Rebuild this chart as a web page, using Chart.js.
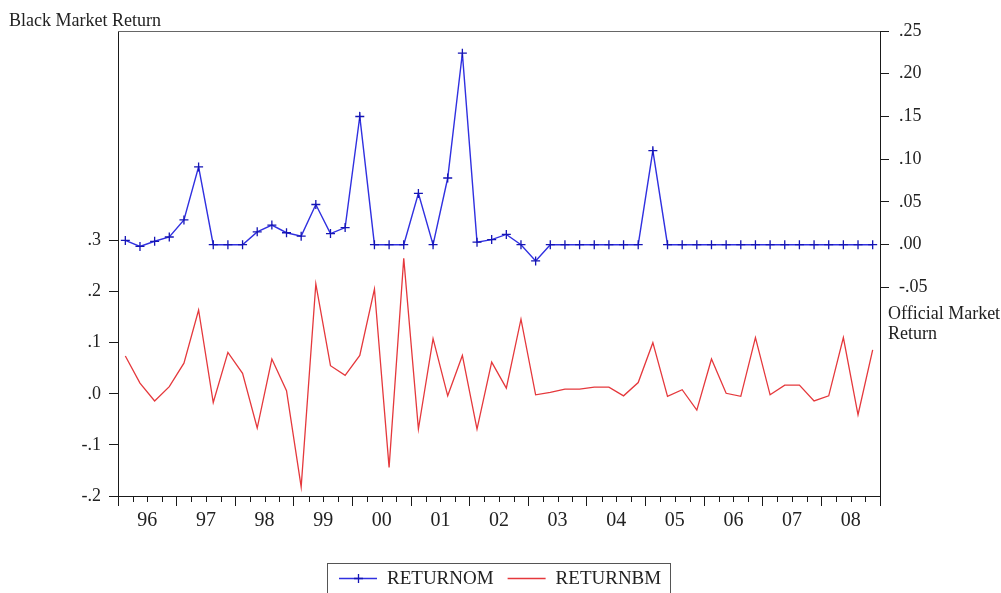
<!DOCTYPE html>
<html><head><meta charset="utf-8">
<script src="https://cdn.jsdelivr.net/npm/chart.js@4.4.1/dist/chart.umd.min.js"></script>
<style>html,body{margin:0;padding:0;background:#fff;overflow:hidden}canvas{display:block}</style>
</head><body>
<canvas id="c" width="1001" height="593"></canvas>
<script>
const years = ['96','97','98','99','00','01','02','03','04','05','06','07','08'];
const quarters = [];
years.forEach(y => { for (let q = 1; q <= 4; q++) quarters.push(y + 'Q' + q); });

// RETURNOM (official market return, right axis)
const returnOM = [0.005, -0.002, 0.004, 0.009, 0.029, 0.091, 0, 0, 0, 0.015,
  0.023, 0.014, 0.010, 0.047, 0.013, 0.020, 0.150, 0, 0, 0,
  0.060, 0, 0.078, 0.224, 0.003, 0.006, 0.012, 0, -0.019, 0,
  0, 0, 0, 0, 0, 0, 0.110, 0, 0, 0,
  0, 0, 0, 0, 0, 0, 0, 0, 0, 0,
  0, 0];
// RETURNBM (black market return, left axis)
const returnBM = [0.074, 0.021, -0.014, 0.014, 0.060, 0.164, -0.017, 0.081, 0.040, -0.067,
  0.068, 0.006, -0.182, 0.215, 0.055, 0.036, 0.075, 0.205, -0.144, 0.265,
  -0.069, 0.108, -0.004, 0.075, -0.069, 0.062, 0.011, 0.146, -0.002, 0.003,
  0.009, 0.009, 0.013, 0.013, -0.004, 0.022, 0.100, -0.005, 0.008, -0.032,
  0.068, 0.001, -0.005, 0.110, -0.002, 0.017, 0.017, -0.014, -0.004, 0.110,
  -0.041, 0.086];

const leftTicks = [-0.2, -0.1, 0, 0.1, 0.2, 0.3];
const rightTicks = [-0.05, 0, 0.05, 0.10, 0.15, 0.20, 0.25];
const leftTitle = 'Black Market Return';
const rightTitle = ['Official Market', 'Return'];

const SERIF = '"Liberation Serif", "Times New Roman", serif';
const AXIS = '#1a1a1a';

function fmt(v, d) {
  let s = Math.abs(v).toFixed(d).replace(/^0\./, '.');
  return (v < -1e-9 ? '-' : '') + s;
}

const toXY = arr => arr.map((v, i) => ({ x: i + 0.5, y: v }));

const extras = {
  id: 'extras',
  afterDraw(chart) {
    const ctx = chart.ctx;
    const a = chart.chartArea;
    const xs = chart.scales.x;
    ctx.save();
    // top frame
    ctx.strokeStyle = '#666';
    ctx.lineWidth = 1;
    ctx.beginPath();
    ctx.moveTo(a.left, Math.round(a.top) + 0.5);
    ctx.lineTo(a.right, Math.round(a.top) + 0.5);
    ctx.stroke();
    // minor (quarter) ticks
    ctx.strokeStyle = AXIS;
    ctx.beginPath();
    for (let i = 0; i <= quarters.length; i++) {
      if (i % 4 === 0) continue;
      const px = Math.round(xs.getPixelForValue(i)) + 0.5;
      ctx.moveTo(px, a.bottom);
      ctx.lineTo(px, a.bottom + 6);
    }
    ctx.stroke();
    // axis titles
    ctx.fillStyle = '#222';
    ctx.font = '18px ' + SERIF;
    ctx.textBaseline = 'alphabetic';
    ctx.textAlign = 'left';
    ctx.fillText(leftTitle, 9, 26);
    ctx.fillText(rightTitle[0], a.right + 8, 319);
    ctx.fillText(rightTitle[1], a.right + 8, 339);
    // legend
    ctx.font = '19px ' + SERIF;
    const sample = 38, gapS = 10, gapI = 14, padL = 12, padR = 9;
    const items = chart.data.datasets.map(ds => ({ ds, w: ctx.measureText(ds.label).width }));
    const total = padL + padR + items.reduce((s, it) => s + sample + gapS + it.w, 0) + gapI * (items.length - 1);
    const cx = (a.left + a.right) / 2;
    const x0 = Math.round(cx - total / 2);
    const top = 563, yLine = 578;
    ctx.strokeStyle = '#555';
    ctx.strokeRect(x0 + 0.5, top + 0.5, Math.round(total), 60);
    let x = x0 + padL;
    items.forEach(it => {
      const ds = it.ds;
      ctx.strokeStyle = ds.borderColor;
      ctx.lineWidth = ds.borderWidth;
      ctx.beginPath();
      ctx.moveTo(x, yLine + 0.5);
      ctx.lineTo(x + sample, yLine + 0.5);
      ctx.stroke();
      if (ds.pointRadius > 0) {
        ctx.strokeStyle = ds.pointBorderColor;
        ctx.lineWidth = ds.pointBorderWidth;
        const mx = Math.round(x + sample / 2) + 0.5, r = ds.pointRadius;
        ctx.beginPath();
        ctx.moveTo(mx - r, yLine + 0.5); ctx.lineTo(mx + r, yLine + 0.5);
        ctx.moveTo(mx, yLine + 0.5 - r); ctx.lineTo(mx, yLine + 0.5 + r);
        ctx.stroke();
      }
      ctx.fillStyle = '#222';
      ctx.fillText(ds.label, x + sample + gapS, 584);
      x += sample + gapS + it.w + gapI;
    });
    ctx.restore();
  }
};

new Chart(document.getElementById('c'), {
  type: 'line',
  data: {
    datasets: [
      {
        label: 'RETURNOM',
        data: toXY(returnOM),
        yAxisID: 'yR',
        borderColor: '#3030e0',
        borderWidth: 1.4,
        pointStyle: 'cross',
        pointRadius: 4.5,
        pointBorderColor: '#1515b5',
        pointBorderWidth: 1.3,
        pointHoverRadius: 4.5,
        tension: 0,
        fill: false
      },
      {
        label: 'RETURNBM',
        data: toXY(returnBM),
        yAxisID: 'yL',
        borderColor: '#e5383c',
        borderWidth: 1.3,
        pointRadius: 0,
        pointHoverRadius: 0,
        tension: 0,
        fill: false
      }
    ]
  },
  options: {
    responsive: false,
    animation: false,
    events: [],
    layout: { padding: { top: 31, left: 0, right: 0, bottom: 0 } },
    plugins: { legend: { display: false }, tooltip: { enabled: false }, title: { display: false } },
    scales: {
      x: {
        type: 'linear',
        min: 0,
        max: quarters.length,
        afterBuildTicks: s => { s.ticks = []; for (let i = 0; i <= quarters.length; i++) s.ticks.push({ value: i }); },
        afterFit: s => { s.height = 97; },
        border: { display: true, color: AXIS, width: 1 },
        grid: {
          display: true,
          drawOnChartArea: false,
          drawTicks: true,
          tickLength: 10,
          tickWidth: 1,
          tickColor: c => (c.tick && c.tick.value % 4 === 0) ? AXIS : 'rgba(0,0,0,0)'
        },
        ticks: {
          autoSkip: false,
          maxRotation: 0,
          padding: 3,
          color: '#222',
          font: { family: SERIF, size: 20 },
          callback: v => (v % 4 === 2) ? years[(v - 2) / 4] : ''
        }
      },
      yL: {
        type: 'linear',
        position: 'left',
        min: -0.2,
        max: 0.71,
        afterBuildTicks: s => { s.ticks = leftTicks.map(v => ({ value: v })); },
        afterFit: s => { s.width = 118; },
        border: { display: true, color: AXIS, width: 1 },
        grid: { drawOnChartArea: false, tickLength: 9, tickColor: AXIS },
        ticks: {
          padding: 8,
          color: '#222',
          font: { family: SERIF, size: 18 },
          callback: v => fmt(v, 1)
        }
      },
      yR: {
        type: 'linear',
        position: 'right',
        min: -0.294,
        max: 0.25,
        afterBuildTicks: s => { s.ticks = rightTicks.map(v => ({ value: v })); },
        afterFit: s => { s.width = 121; },
        border: { display: true, color: AXIS, width: 1 },
        grid: { drawOnChartArea: false, tickLength: 9, tickColor: AXIS },
        ticks: {
          padding: 10,
          color: '#222',
          font: { family: SERIF, size: 18 },
          callback: v => fmt(v, 2)
        }
      }
    }
  },
  plugins: [extras]
});
</script>
</body></html>
